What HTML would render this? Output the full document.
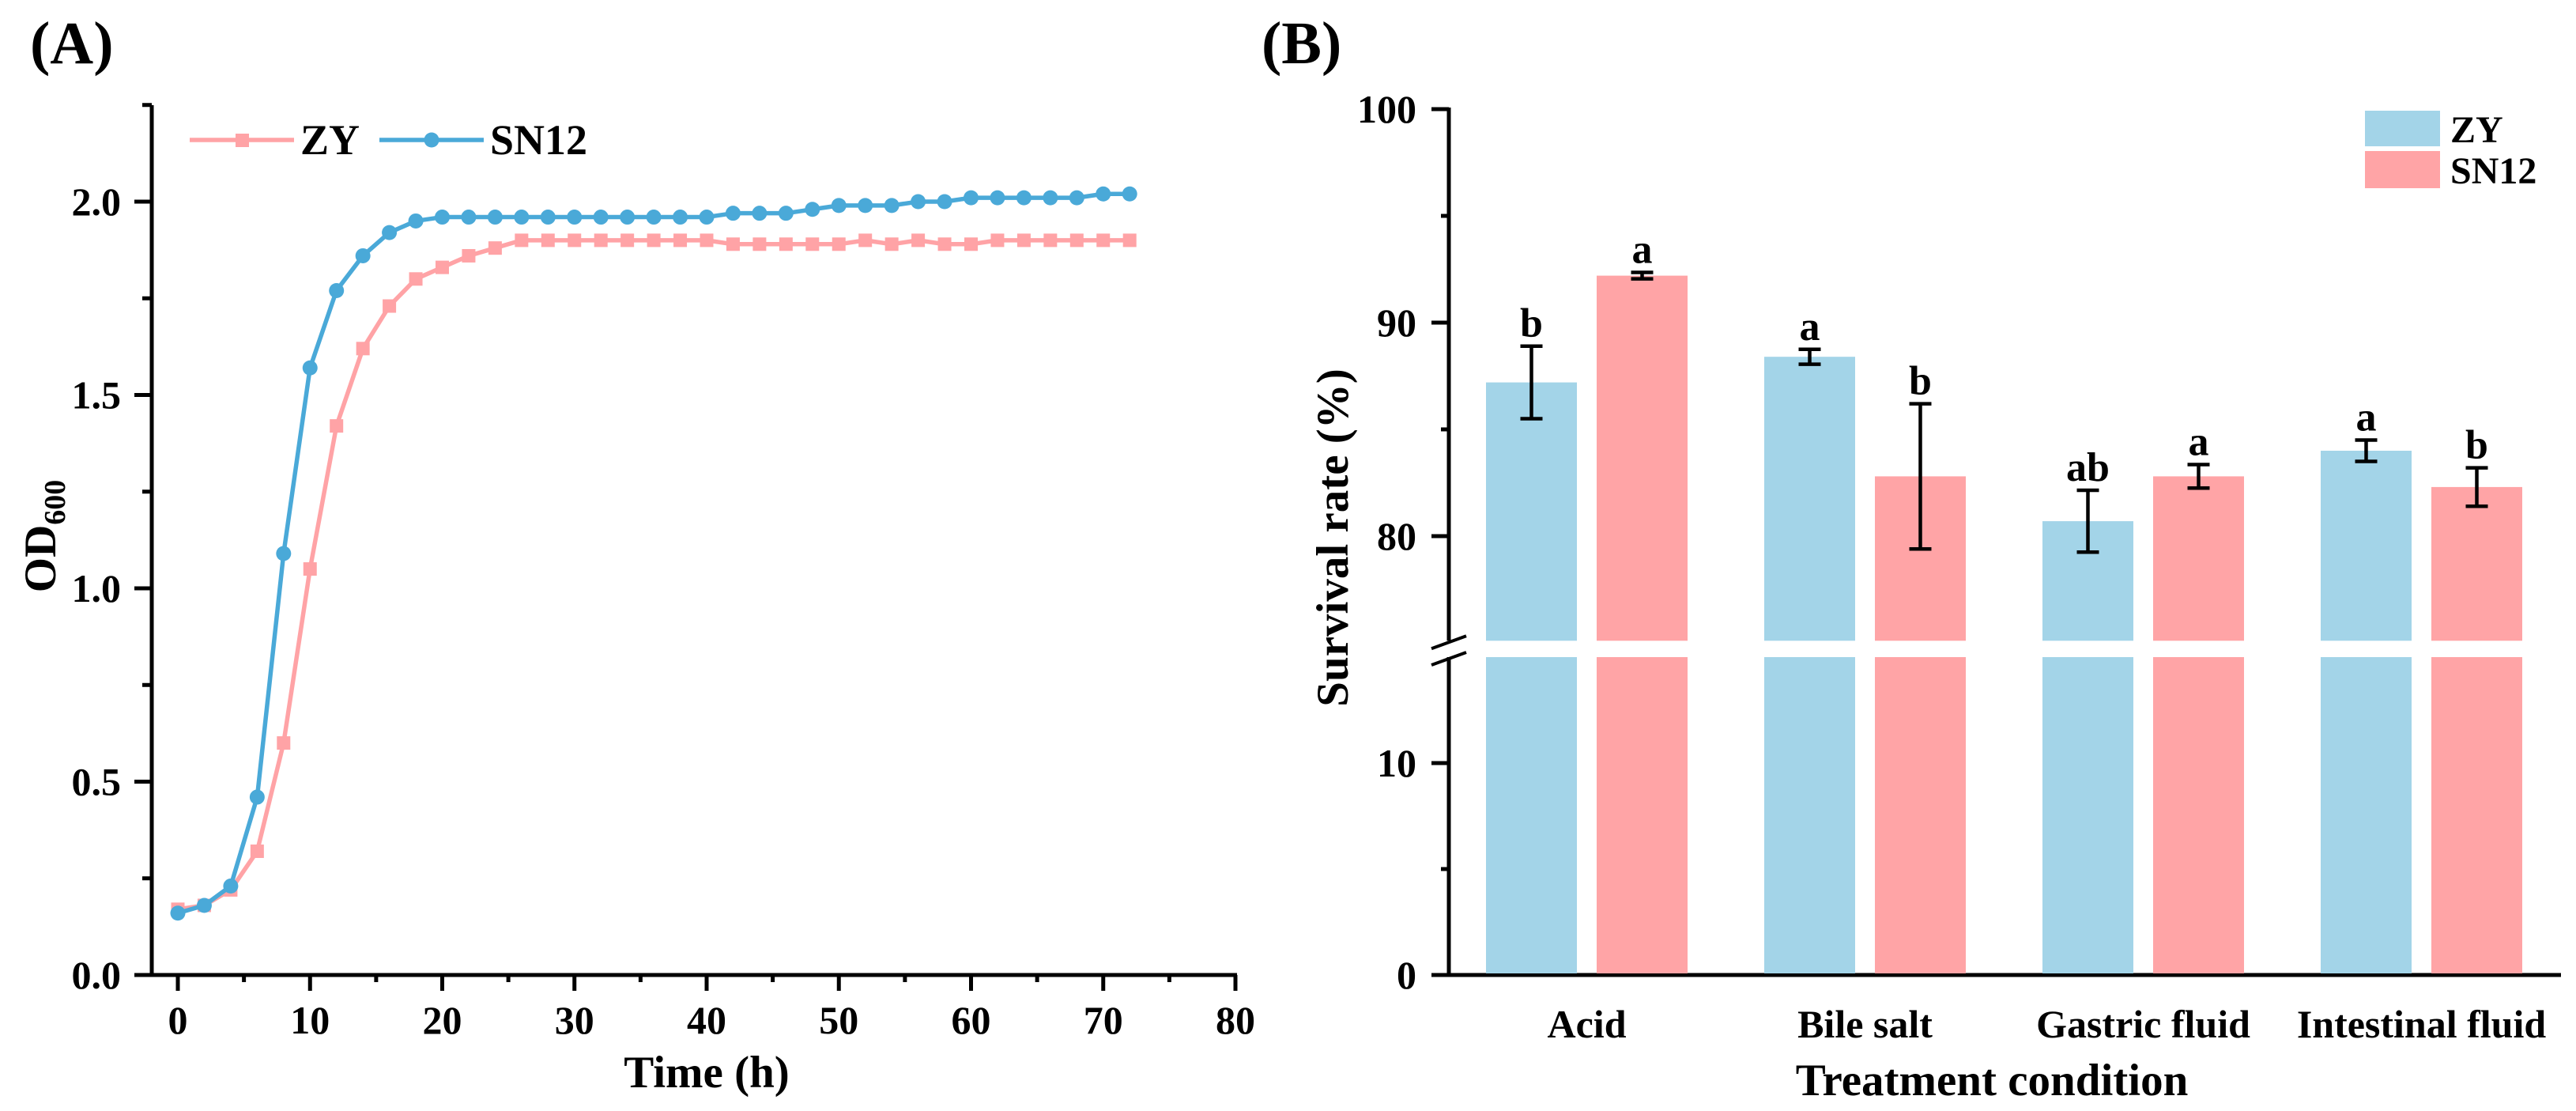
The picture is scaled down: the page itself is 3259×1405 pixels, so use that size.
<!DOCTYPE html>
<html><head><meta charset="utf-8"><style>
html,body{margin:0;padding:0;background:#fff;}
svg{display:block;font-family:"Liberation Serif",serif;font-weight:bold;}
</style></head><body>
<svg id="fig" width="3259" height="1405" viewBox="0 0 3259 1405" xmlns="http://www.w3.org/2000/svg">
<g id="pa"></g>
<g id="pb"></g>
</svg>
<script>
// ---- Panel A data ----
const timeH = [0,2,4,6,8,10,12,14,16,18,20,22,24,26,28,30,32,34,36,38,40,42,44,46,48,50,52,54,56,58,60,62,64,66,68,70,72];
const zyOD = [0.17,0.18,0.22,0.32,0.60,1.05,1.42,1.62,1.73,1.80,1.83,1.86,1.88,1.90,1.90,1.90,1.90,1.90,1.90,1.90,1.90,1.89,1.89,1.89,1.89,1.89,1.90,1.89,1.90,1.89,1.89,1.90,1.90,1.90,1.90,1.90,1.90];
const sn12OD = [0.16,0.18,0.23,0.46,1.09,1.57,1.77,1.86,1.92,1.95,1.96,1.96,1.96,1.96,1.96,1.96,1.96,1.96,1.96,1.96,1.96,1.97,1.97,1.97,1.98,1.99,1.99,1.99,2.00,2.00,2.01,2.01,2.01,2.01,2.01,2.02,2.02];
const aYTicks = [0.0,0.5,1.0,1.5,2.0];
const aXTicks = [0,10,20,30,40,50,60,70,80];
// ---- Panel B data ----
const categories = ["Acid","Bile salt","Gastric fluid","Intestinal fluid"];
const zyMean = [87.2,88.4,80.7,84.0];
const zyErr = [1.7,0.35,1.45,0.5];
const zyLetter = ["b","a","ab","a"];
const snMean = [92.2,82.8,82.8,82.3];
const snErr = [0.15,3.4,0.55,0.9];
const snLetter = ["a","b","a","b"];
const bUpperTicks = [80,90,100];
const bLowerTicks = [0,10];

const NS="http://www.w3.org/2000/svg";
function mk(parent,tag,attrs,text){const e=document.createElementNS(NS,tag);for(const k in attrs)e.setAttribute(k,attrs[k]);if(text!==undefined)e.textContent=text;parent.appendChild(e);return e;}
const PINK="#ffa3a6", BLUE="#4aa9d8", BBAR="#a3d4e8", PBAR="#ffa4a6";

// ===== Panel A =====
const pa=document.getElementById('pa');
const ax=v=>225+v*(1563-225)/80;
const ay=v=>1233-v*(1233-255)/2.0;
let t;
t=mk(pa,'text',{x:38,y:80,'font-size':76},'(A)');


let l=mk(pa,'line',{x1:192,y1:133,x2:192,y2:1235,stroke:'#000','stroke-width':5});


l=mk(pa,'line',{x1:170,y1:1233,x2:1565,y2:1233,stroke:'#000','stroke-width':5});


for(let v=0;v<=2.25;v+=0.25){
  const y=ay(v);const major=Math.abs(v*2-Math.round(v*2))<1e-6;
  mk(pa,'line',{x1:major?170:180,y1:y,x2:192,y2:y,stroke:'#000','stroke-width':5});
}
aYTicks.forEach(v=>{const e=mk(pa,'text',{x:153,y:ay(v)+17,'font-size':50,'text-anchor':'end'},v.toFixed(1));

});
for(let v=0;v<=80;v+=5){
  const x=ax(v);const major=v%10===0;
  mk(pa,'line',{x1:x,y1:1233,x2:x,y2:major?1253:1242,stroke:'#000','stroke-width':5});
}
aXTicks.forEach(v=>{const e=mk(pa,'text',{x:ax(v),y:1307,'font-size':50,'text-anchor':'middle'},String(v));

});
t=mk(pa,'text',{x:(ax(0)+ax(80))/2,y:1375,'font-size':57,'text-anchor':'middle'},'Time (h)');


t=mk(pa,'text',{transform:'translate(70,678) rotate(-90)','font-size':57,'text-anchor':'middle'});


t.innerHTML='OD<tspan font-size="38" dy="12">600</tspan>';
function series(vals,color,marker,name){
  const g=mk(pa,'g',{});
  
  
  mk(g,'polyline',{points:timeH.map((x,i)=>ax(x)+','+ay(vals[i])).join(' '),fill:'none',stroke:color,'stroke-width':5.5,'stroke-linejoin':'round'});
  timeH.forEach((x,i)=>{
    const e = marker==='sq'?mk(g,'rect',{x:ax(x)-8.5,y:ay(vals[i])-8.5,width:17,height:17,fill:color})
      :mk(g,'circle',{cx:ax(x),cy:ay(vals[i]),r:9.5,fill:color});
    
    
  });
}
series(zyOD,PINK,'sq','zy-line');
series(sn12OD,BLUE,'ci','sn12-line');
const lg=mk(pa,'g',{});


mk(lg,'line',{x1:240,y1:177,x2:372,y2:177,stroke:PINK,'stroke-width':5.5});
mk(lg,'rect',{x:298,y:169,width:17,height:17,fill:PINK});
mk(lg,'text',{x:380,y:195,'font-size':54},'ZY');
mk(lg,'line',{x1:480,y1:177,x2:612,y2:177,stroke:BLUE,'stroke-width':5.5});
mk(lg,'circle',{cx:546,cy:177,r:9.5,fill:BLUE});
mk(lg,'text',{x:620,y:195,'font-size':54},'SN12');

// ===== Panel B =====
const pb=document.getElementById('pb');
const AX=1833;
const yU=v=>138+(100-v)*27.0;
const yL=v=>1233-v*26.8;
const UB=yU(75.1), LT=yL(15);
t=mk(pb,'text',{x:1596,y:80,'font-size':76},'(B)');


l=mk(pb,'line',{x1:AX,y1:136,x2:AX,y2:UB,stroke:'#000','stroke-width':5});


l=mk(pb,'line',{x1:AX,y1:LT,x2:AX,y2:1235,stroke:'#000','stroke-width':5});


mk(pb,'line',{x1:AX-22,y1:UB+10,x2:AX+22,y2:UB-6,stroke:'#000','stroke-width':4});
mk(pb,'line',{x1:AX-22,y1:LT+10,x2:AX+22,y2:LT-6,stroke:'#000','stroke-width':4});
l=mk(pb,'line',{x1:AX-22,y1:1233,x2:3240,y2:1233,stroke:'#000','stroke-width':5});


[95,85].forEach(v=>mk(pb,'line',{x1:AX-10,y1:yU(v),x2:AX,y2:yU(v),stroke:'#000','stroke-width':5}));
mk(pb,'line',{x1:AX-10,y1:yL(5),x2:AX,y2:yL(5),stroke:'#000','stroke-width':5});
bUpperTicks.forEach(v=>{mk(pb,'line',{x1:AX-22,y1:yU(v),x2:AX,y2:yU(v),stroke:'#000','stroke-width':5});
const e=mk(pb,'text',{x:1792,y:yU(v)+17,'font-size':50,'text-anchor':'end'},String(v));

});
bLowerTicks.forEach(v=>{mk(pb,'line',{x1:AX-22,y1:yL(v),x2:AX,y2:yL(v),stroke:'#000','stroke-width':5});
const e=mk(pb,'text',{x:1792,y:yL(v)+17,'font-size':50,'text-anchor':'end'},String(v));

});
const BW=115, GAP=25, STEP=352, G0=1880;
function bar(x,mean,err,letter,color,name){
  const g=mk(pb,'g',{});
  
  
  mk(g,'rect',{x:x,y:LT,width:BW,height:1231-LT,fill:color});
  const top=yU(mean);
  mk(g,'rect',{x:x,y:top,width:BW,height:UB-top,fill:color});
  const cx=x+BW/2, y1=yU(mean+err), y2=yU(mean-err);
  mk(g,'line',{x1:cx,y1:y1,x2:cx,y2:y2,stroke:'#000','stroke-width':4.5});
  mk(g,'line',{x1:cx-14,y1:y1,x2:cx+14,y2:y1,stroke:'#000','stroke-width':4.5});
  mk(g,'line',{x1:cx-14,y1:y2,x2:cx+14,y2:y2,stroke:'#000','stroke-width':4.5});
  const lt=mk(g,'text',{x:cx,y:y1-12,'font-size':52,'text-anchor':'middle'},letter);
  
  
}
categories.forEach((c,i)=>{
  const gx=G0+i*STEP;
  bar(gx,zyMean[i],zyErr[i],zyLetter[i],BBAR,'bar-zy-'+i);
  bar(gx+BW+GAP,snMean[i],snErr[i],snLetter[i],PBAR,'bar-sn12-'+i);
  const e=mk(pb,'text',{x:gx+BW+GAP/2,y:1312,'font-size':50,'text-anchor':'middle'},c);
  
  
});
t=mk(pb,'text',{x:2520,y:1385,'font-size':57,'text-anchor':'middle'},'Treatment condition');


t=mk(pb,'text',{transform:'translate(1705,680) rotate(-90)','font-size':57,'text-anchor':'middle'},'Survival rate (%)');


const lb=mk(pb,'g',{});


mk(lb,'rect',{x:2992,y:140,width:95,height:45,fill:BBAR});
mk(lb,'text',{x:3100,y:180,'font-size':48},'ZY');
mk(lb,'rect',{x:2992,y:191,width:95,height:47,fill:PBAR});
mk(lb,'text',{x:3100,y:232,'font-size':48},'SN12');
</script>
</body></html>
